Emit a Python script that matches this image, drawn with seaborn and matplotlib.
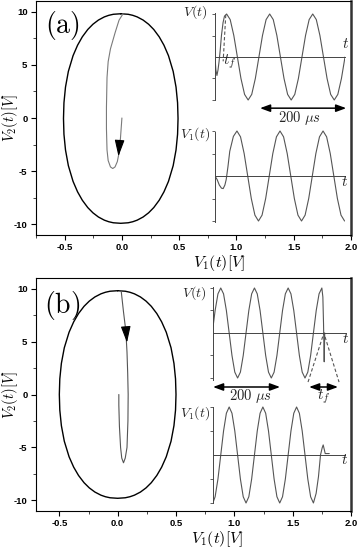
import numpy as np
import pandas as pd
import matplotlib
matplotlib.use("Agg")
import matplotlib.pyplot as plt
from matplotlib.ticker import AutoMinorLocator
import seaborn as sns

# ---------------- data ----------------
# normalised quarter profile of the closed orbit (fraction of semi-axes)
ell_q = [1.0, 0.995, 0.985, 0.97, 0.94, 0.90, 0.85, 0.78, 0.70, 0.60, 0.45, 0.30, 0.15, 0.0]
ell_w = [0.0, 0.13, 0.21, 0.287, 0.39, 0.486, 0.576, 0.671, 0.754, 0.833, 0.915, 0.965, 0.992, 1.0]
ell_a_center = (-0.01, -0.05)
ell_a_axes = (0.5, 9.85)
ell_b_center = (0.0, 0.0)
ell_b_axes = (0.5, 9.8)

# transient trajectories (V1, V2)
traj_a_v1 = [0.0, -0.01, -0.02, -0.04, -0.06, -0.08, -0.10, -0.12, -0.13, -0.135, -0.135,
             -0.13, -0.12, -0.10, -0.06, -0.025, 0.01]
traj_a_v2 = [0.0, -1.5, -3.0, -4.1, -4.6, -4.75, -4.6, -4.0, -3.0, -1.0, 1.0,
             3.8, 5.3, 6.5, 8.0, 9.2, 9.8]
traj_b_v1 = [0.03, 0.05, 0.07, 0.08, 0.086, 0.09, 0.088, 0.08, 0.065, 0.05, 0.035,
             0.025, 0.015, 0.01, 0.01]
traj_b_v2 = [9.8, 7.8, 6.0, 4.0, 2.0, 0.0, -2.5, -5.0, -6.0, -6.45, -6.0,
             -5.0, -3.0, -1.0, 0.0]
arrow_a = ((-0.02, -2.1), (-0.03, -3.6))
arrow_b = ((0.07, 6.3), (0.08, 4.9))

# inset time series (t in microseconds, normalised voltage)
ta_v = [0, 2, 4.5, 7, 9.5, 12, 15, 18.7, 22, 27, 35.3, 43.7, 52, 60.3, 68.7, 77,
        85.3, 93.7, 102, 110.3, 118.7, 127, 135.3, 143.7, 152, 160.3, 168.7, 177,
        185.3, 193.7, 202, 210.3, 218.7, 227, 235.3, 243.7, 252, 260.3, 268.7, 277,
        285.3, 293.7, 302]
va_v = [0, -0.3, -0.43, -0.3, -0.1, 0.15, 0.5, 0.8, 0.95, 1.0, 0.87, 0.5, 0, -0.5, -0.87, -1,
        -0.87, -0.5, 0, 0.5, 0.87, 1, 0.87, 0.5, 0, -0.5, -0.87, -1,
        -0.87, -0.5, 0, 0.5, 0.87, 1, 0.87, 0.5, 0, -0.5, -0.87, -1,
        -0.87, -0.5, 0]
ta_tf_t = [25, 19]
ta_tf_v = [0.98, -0.1]

ta_v1 = [0, 5, 10, 15, 19, 23, 26, 30, 34.3, 42.7, 51, 59.3, 67.7, 76, 84.3, 92.7, 101,
         109.3, 117.7, 126, 134.3, 142.7, 151, 159.3, 167.7, 176, 184.3, 192.7, 201,
         209.3, 217.7, 226, 234.3, 242.7, 251, 259.3, 267.7, 276, 284.3, 292.7, 301]
va_v1 = [0, -0.08, -0.2, -0.27, -0.28, -0.2, -0.08, 0.2, 0.55, 0.88, 1, 0.87, 0.5, 0, -0.5, -0.87, -1,
         -0.87, -0.5, 0, 0.5, 0.87, 1, 0.87, 0.5, 0, -0.5, -0.87, -1,
         -0.87, -0.5, 0, 0.5, 0.87, 1, 0.87, 0.5, 0, -0.5, -0.87, -1]

tb_v = [0, 6.3, 14.7, 23, 31.3, 39.7, 48, 56.3, 64.7, 73, 81.3, 89.7, 98, 106.3, 114.7, 123,
        131.3, 139.7, 148, 156.3, 164.7, 173, 181.3, 189.7, 198, 206.3, 214.7, 223,
        231.3, 239.7, 248, 256.3, 264.7, 273, 281.3, 289.7, 298, 306.3, 314.7, 323,
        326, 328, 330, 331.5]
vb_v = [0.13, 0.5, 0.87, 1, 0.87, 0.5, 0, -0.5, -0.87, -1, -0.87, -0.5, 0, 0.5, 0.87, 1,
        0.87, 0.5, 0, -0.5, -0.87, -1, -0.87, -0.5, 0, 0.5, 0.87, 1,
        0.87, 0.5, 0, -0.5, -0.87, -1, -0.87, -0.5, 0, 0.5, 0.87, 1,
        0.8, 0.2, -0.64, 0]
tb_tf_t = [282, 329, 374]
tb_tf_v = [-1.09, 0, -1.09]

tb_v1 = [0, 6.3, 14.7, 23, 31.3, 39.7, 48, 56.3, 64.7, 73, 81.3, 89.7, 98, 106.3, 114.7, 123,
         131.3, 139.7, 148, 156.3, 164.7, 173, 181.3, 189.7, 198, 206.3, 214.7, 223,
         231.3, 239.7, 248, 256.3, 264.7, 273, 281.3, 289.7, 298,
         306, 313, 319, 324, 327, 330, 333, 345]
vb_v1 = [-0.99, -0.87, -0.5, 0, 0.5, 0.87, 1, 0.87, 0.5, 0, -0.5, -0.87, -1, -0.87, -0.5, 0,
         0.5, 0.87, 1, 0.87, 0.5, 0, -0.5, -0.87, -1, -0.87, -0.5, 0,
         0.5, 0.87, 1, 0.87, 0.5, 0, -0.5, -0.87, -1,
         -0.8, -0.45, 0, 0.15, 0.21, 0.12, 0.03, 0.03]

xticks = [-0.5, 0.0, 0.5, 1.0, 1.5, 2.0]
xticklabels = ["-0.5", "0.0", "0.5", "1.0", "1.5", "2.0"]
yticks = [-10, -5, 0, 5, 10]
yticklabels = ["-10", "-5", "0", "5", "10"]

# ---------------- style ----------------
sns.set_theme(style="ticks")
plt.rcParams.update({
    "font.family": ["Liberation Sans", "DejaVu Sans"],
    "mathtext.fontset": "cm",
    "axes.unicode_minus": False,
    "axes.facecolor": "white",
    "figure.facecolor": "white",
})

W, H = 358, 550
fig = plt.figure(figsize=(W / 100, H / 100), dpi=100)


def px_rect(left, top, right, bottom):
    return [left / W, 1 - bottom / H, (right - left) / W, (bottom - top) / H]


def ring(center, axes):
    q = np.array(ell_q)
    w = np.array(ell_w)
    q_r = np.concatenate([q, -q[::-1][1:]])
    w_r = np.concatenate([w, w[::-1][1:]])
    x = np.concatenate([w_r, -w_r[::-1][1:]])
    y = np.concatenate([q_r, q_r[::-1][1:]])
    return center[0] + axes[0] * x, center[1] + axes[1] * y


def setup_main(ax, xlim, xlabel_pos):
    ax.set_xlim(*xlim)
    ax.set_ylim(-11, 11)
    ax.set_xticks(xticks)
    ax.set_xticklabels(xticklabels)
    ax.set_yticks(yticks)
    ax.set_yticklabels(yticklabels)
    ax.xaxis.set_minor_locator(AutoMinorLocator(2))
    ax.yaxis.set_minor_locator(AutoMinorLocator(2))
    ax.tick_params(which="major", direction="out", length=3.6, width=0.8,
                   labelsize=6.8, colors="black")
    ax.tick_params(axis="y", which="major", pad=2.5)
    ax.tick_params(axis="x", which="major", pad=1.8)
    ax.tick_params(which="minor", direction="out", length=2, width=0.6)
    for lab in ax.get_xticklabels() + ax.get_yticklabels():
        lab.set_fontweight("bold")
    for s in ["left", "bottom", "top"]:
        ax.spines[s].set_color("black")
        ax.spines[s].set_linewidth(0.8)
    ax.spines["right"].set_color("#333333")
    ax.spines["right"].set_linewidth(1.8)
    ax.set_xlabel(r"$V_1(t)[V]$", fontsize=11.5, color="black")
    ax.set_ylabel(r"$V_2(t)[V]$", fontsize=10.5, color="black")
    ax.xaxis.set_label_coords(*xlabel_pos)
    ax.yaxis.set_label_coords(-0.05, 0.5)


def make_inset(x0, t_end, pxu, y0, amp, ylo, yhi):
    left = x0
    right = x0 + t_end * pxu
    top = y0 - yhi * amp
    bottom = y0 - ylo * amp
    ax = fig.add_axes(px_rect(left, top, right, bottom))
    ax.set_facecolor("none")
    return ax


def finish_inset(ax, t_end, ylo, yhi, vb):
    ax.set_xlim(0, t_end)
    ax.set_ylim(ylo, yhi)
    ax.spines["top"].set_visible(False)
    ax.spines["right"].set_visible(False)
    ax.spines["left"].set_bounds(*vb)
    ax.spines["left"].set_linewidth(0.7)
    ax.spines["left"].set_color("#444444")
    ax.spines["bottom"].set_position(("data", 0))
    ax.spines["bottom"].set_linewidth(0.7)
    ax.spines["bottom"].set_color("#444444")
    ax.set_xticks([])
    ax.set_yticks([-1, -0.5, 0.5, 1])
    ax.set_yticklabels([])
    ax.tick_params(axis="y", direction="out", length=2, width=0.6, colors="#444444")
    ax.set_xlabel("")
    ax.set_ylabel("")


wave_col = "#555555"


def draw_panel(rect, xlim, center, axes, tv1, tv2, tcol, arrow, letter, letter_xy, xlabel_pos):
    ax = fig.add_axes(rect)
    ex, ey = ring(center, axes)
    sns.lineplot(x=ex, y=ey, sort=False, estimator=None, color="black", lw=1.0, ax=ax)
    sns.lineplot(x=tv1, y=tv2, sort=False, estimator=None, color=tcol, lw=0.8, ax=ax)
    ax.annotate("", xy=arrow[1], xytext=arrow[0],
                arrowprops=dict(arrowstyle="-|>,head_length=1.0,head_width=0.3",
                                color="black", lw=0.8, shrinkA=0, shrinkB=0,
                                mutation_scale=10))
    setup_main(ax, xlim, xlabel_pos)
    fig.text(letter_xy[0] / W, 1 - letter_xy[1] / H, r"$\mathrm{(" + letter + ")}$",
             fontsize=20, ha="center", va="center", color="black")
    return ax


# ---------------- panel (a) ----------------
draw_panel(px_rect(36, 1, 351, 235), (-0.75, 2.0), ell_a_center, ell_a_axes,
           traj_a_v1, traj_a_v2, "#7a7a7a", arrow_a, "a", (62, 26), (0.581, -0.077))

# upper inset (a)
pxa = 0.4305
ia1 = make_inset(215, 302, pxa, 57, 43, -1.6, 1.25)
sns.lineplot(x=ta_v, y=va_v, sort=False, estimator=None, color=wave_col, lw=0.8, ax=ia1)
ia1.plot(ta_tf_t, ta_tf_v, ls=(0, (3, 2)), color=wave_col, lw=0.8)
finish_inset(ia1, 302, -1.6, 1.25, (-1.0, 1.02))
ia1.text(-46.5, 1.05, r"$V(t)$", fontsize=10, ha="center", va="center")
ia1.text(304, 0.30, r"$t$", fontsize=11, ha="center", va="center")
ia1.text(35, -0.12, r"$t_f$", fontsize=11, ha="center", va="center")
ia1.annotate("", xy=(304.8, -1.19), xytext=(104.5, -1.19), annotation_clip=False,
             arrowprops=dict(arrowstyle="<|-|>,head_length=0.6,head_width=0.22",
                             color="black", lw=1.1, shrinkA=0, shrinkB=0, mutation_scale=10))
ia1.text(197.4, -1.41, r"$200\ \mu s$", fontsize=10.5, ha="center", va="center")

# lower inset (a)
ia2 = make_inset(215, 302, pxa, 176, 45, -1.2, 1.2)
sns.lineplot(x=ta_v1, y=va_v1, sort=False, estimator=None, color=wave_col, lw=0.8, ax=ia2)
finish_inset(ia2, 302, -1.2, 1.2, (-1.02, 0.98))
ia2.text(-46.5, 0.92, r"$V_1(t)$", fontsize=10, ha="center", va="center")
ia2.text(302, -0.13, r"$t$", fontsize=11, ha="center", va="center")

# ---------------- panel (b) ----------------
draw_panel(px_rect(36, 278, 351, 511), (-0.70, 2.0), ell_b_center, ell_b_axes,
           traj_b_v1, traj_b_v2, "#555555", arrow_b, "b", (62, 306), (0.575, -0.076))

pxb = 0.337
ib1 = make_inset(213, 392, pxb, 333, 45, -1.6, 1.2)
sns.lineplot(x=tb_v, y=vb_v, sort=False, estimator=None, color=wave_col, lw=0.8, ax=ib1)
ib1.plot(tb_tf_t, tb_tf_v, ls=(0, (3, 2)), color=wave_col, lw=0.8)
finish_inset(ib1, 392, -1.6, 1.2, (-1.04, 1.02))
ib1.text(-56, 0.89, r"$V(t)$", fontsize=10, ha="center", va="center")
ib1.text(394.7, -0.13, r"$t$", fontsize=11, ha="center", va="center")
ib1.annotate("", xy=(199, -1.2), xytext=(0, -1.2), annotation_clip=False,
             arrowprops=dict(arrowstyle="<|-|>,head_length=0.6,head_width=0.22",
                             color="black", lw=1.1, shrinkA=0, shrinkB=0, mutation_scale=10))
ib1.text(112.8, -1.40, r"$200\ \mu s$", fontsize=10.5, ha="center", va="center")
ib1.annotate("", xy=(371, -1.2), xytext=(285, -1.2), annotation_clip=False,
             arrowprops=dict(arrowstyle="<|-|>,head_length=0.6,head_width=0.22",
                             color="black", lw=1.1, shrinkA=0, shrinkB=0, mutation_scale=10))
ib1.text(329, -1.42, r"$t_f$", fontsize=11, ha="center", va="center")

ib2 = make_inset(213, 392, pxb, 455, 48, -1.2, 1.2)
sns.lineplot(x=tb_v1, y=vb_v1, sort=False, estimator=None, color=wave_col, lw=0.8, ax=ib2)
finish_inset(ib2, 392, -1.2, 1.2, (-1.0, 1.0))
ib2.text(-53, 0.875, r"$V_1(t)$", fontsize=10, ha="center", va="center")
ib2.text(389, -0.10, r"$t$", fontsize=11, ha="center", va="center")

fig.savefig("out.png", dpi=100)
